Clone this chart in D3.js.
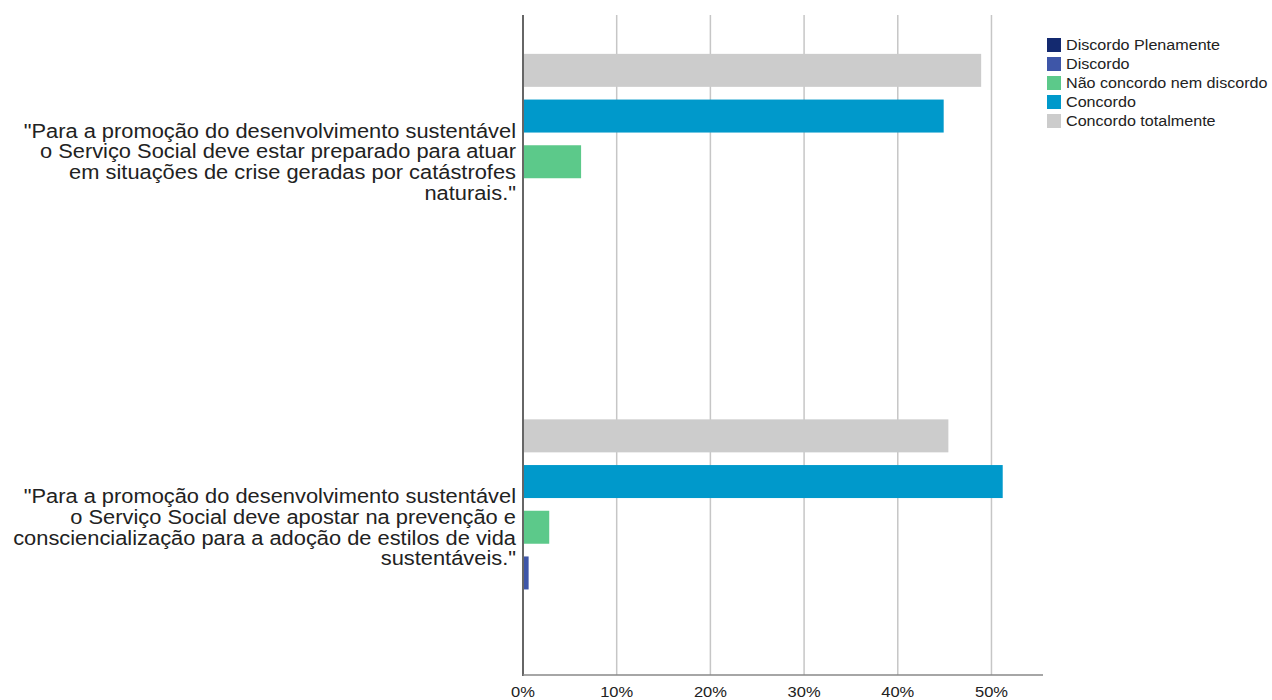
<!DOCTYPE html>
<html>
<head>
<meta charset="utf-8">
<script src="https://cdn.jsdelivr.net/npm/d3@7"></script>
<style>
  body { margin: 0; background: #fff; }
  svg { display: block; font-family: "Liberation Sans", Arial, sans-serif; }
</style>
</head>
<body>
<svg id="canvas" width="1272" height="700"></svg>
<script>
// categories (each label split into its lines)
let categories = ['c1', 'c2']
let categoryLines = [
    ['"Para a promoção do desenvolvimento sustentável',
     'o Serviço Social deve estar preparado para atuar',
     'em situações de crise geradas por catástrofes',
     'naturais."'],
    ['"Para a promoção do desenvolvimento sustentável',
     'o Serviço Social deve apostar na prevenção e',
     'consciencialização para a adoção de estilos de vida',
     'sustentáveis."']
]

let seriesNames = ['Discordo Plenamente', 'Discordo', 'Não concordo nem discordo', 'Concordo', 'Concordo totalmente']
let seriesColors = ['#13296f', '#3e56a8', '#5cc98a', '#0099cb', '#cccccc']

// percentages per category, same order as seriesNames
let valuesCat1 = [0, 0, 6.2, 44.9, 48.9]
let valuesCat2 = [0, 0.6, 2.8, 51.2, 45.4]
let allValues = [valuesCat1, valuesCat2]

let tickValues = [0, 10, 20, 30, 40, 50]

let canvas = d3.select('#canvas')

let plotTop = 15
let plotBottom = 675

// the original text is drawn a bit wider than Arial
let stretch = (x, k) => 'translate(' + x + ',0) scale(' + k + ',1) translate(' + (-x) + ',0)'

let xScale = d3.scaleLinear()
    .domain([0, 55.5])
    .range([523, 1043])

let yScale = d3.scaleBand()
    .domain(categories)
    .range([-21, 710])

// bars go top to bottom in reverse legend order
let innerScale = d3.scaleBand()
    .domain(seriesNames.slice().reverse())
    .range([-yScale.bandwidth() / 2 + 68.5, yScale.bandwidth() / 2 - 68.5])
    .paddingInner(0.278)
    .paddingOuter(0.139)

// grid lines
canvas.append('g')
    .selectAll('line')
    .data(tickValues.slice(1))
    .enter()
    .append('line')
    .attr('x1', (d) => xScale(d))
    .attr('x2', (d) => xScale(d))
    .attr('y1', plotTop)
    .attr('y2', plotBottom)
    .attr('stroke', '#c6c6c6')
    .attr('stroke-width', 1.5)

// bars
let groups = canvas.selectAll('g.group')
    .data(categories)
    .enter()
    .append('g')
    .attr('class', 'group')
    .attr('transform', (c) => 'translate(0,' + (yScale(c) + yScale.bandwidth() / 2) + ')')

groups.selectAll('rect')
    .data((c, i) => allValues[i].map((v, j) => ({ name: seriesNames[j], value: v, color: seriesColors[j] })))
    .enter()
    .filter((d) => d.value > 0)
    .append('rect')
    .attr('x', xScale(0))
    .attr('y', (d) => innerScale(d.name))
    .attr('width', (d) => xScale(d.value) - xScale(0))
    .attr('height', innerScale.bandwidth())
    .attr('fill', (d) => d.color)

// category labels
groups.append('text')
    .attr('text-anchor', 'end')
    .attr('font-size', 20)
    .attr('fill', '#222')
    .attr('transform', stretch(516, 1.093))
    .selectAll('tspan')
    .data((c, i) => categoryLines[i])
    .enter()
    .append('tspan')
    .attr('x', 516)
    .attr('y', (d, i, nodes) => (i - (nodes.length - 1) / 2) * 20.8 + 7)
    .text((d) => d)

// axes lines
canvas.append('line')
    .attr('x1', xScale(0)).attr('x2', xScale(0))
    .attr('y1', plotTop).attr('y2', plotBottom + 1)
    .attr('stroke', '#666')
    .attr('stroke-width', 2)

canvas.append('line')
    .attr('x1', xScale(0)).attr('x2', xScale.range()[1])
    .attr('y1', plotBottom).attr('y2', plotBottom)
    .attr('stroke', '#888')
    .attr('stroke-width', 1.5)

// tick labels
canvas.append('g')
    .selectAll('text')
    .data(tickValues)
    .enter()
    .append('text')
    .attr('x', (d) => xScale(d))
    .attr('y', 697)
    .attr('text-anchor', 'middle')
    .attr('font-size', 15)
    .attr('fill', '#222')
    .attr('transform', (d) => stretch(xScale(d), 1.1))
    .text((d) => d + '%')

// legend
let legend = canvas.append('g')
    .selectAll('g')
    .data(seriesNames)
    .enter()
    .append('g')
    .attr('transform', (d, i) => 'translate(1047,' + (38 + i * 19) + ')')

legend.append('rect')
    .attr('width', 14)
    .attr('height', 14)
    .attr('fill', (d, i) => seriesColors[i])

legend.append('text')
    .attr('x', 19)
    .attr('y', 12)
    .attr('font-size', 15)
    .attr('fill', '#222')
    .attr('transform', stretch(19, 1.075))
    .text((d) => d)
</script>
</body>
</html>
